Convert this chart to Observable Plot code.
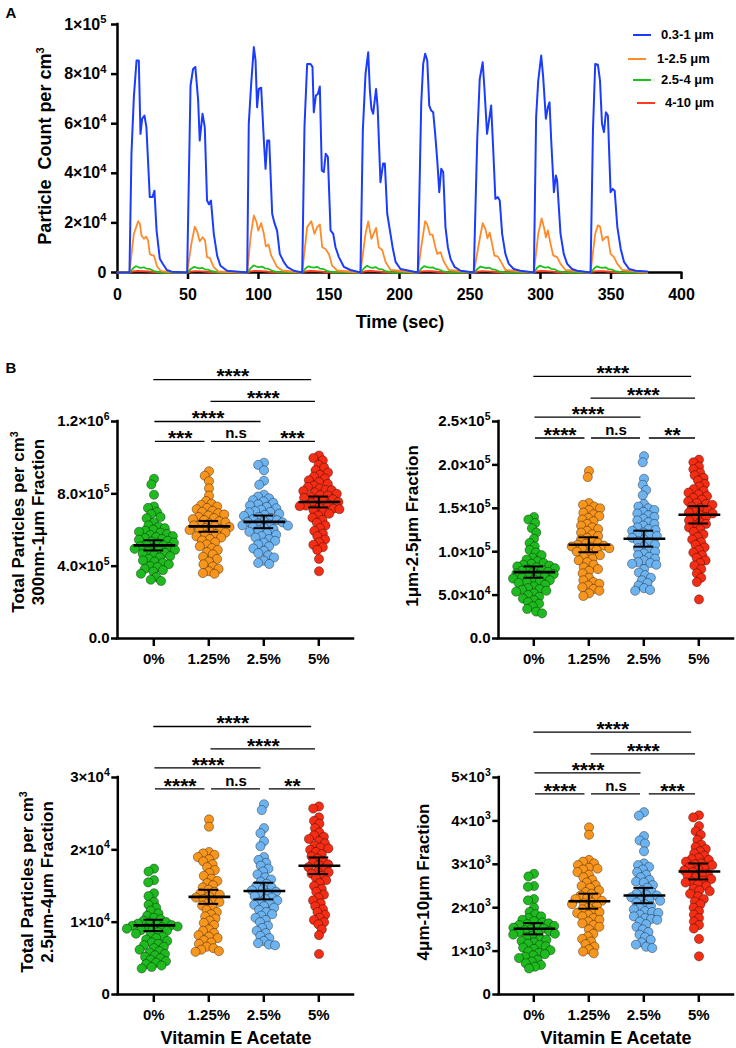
<!DOCTYPE html>
<html><head><meta charset="utf-8">
<script src="https://cdn.jsdelivr.net/npm/d3@7"></script>
<script src="https://cdn.jsdelivr.net/npm/@observablehq/plot@0.6"></script>
<style>
body{margin:0;background:#fff}
#root{position:relative;width:736px;height:1048px;overflow:hidden;background:#fff;font-family:"Liberation Sans",Arial,Helvetica,sans-serif;font-weight:bold;color:#000}
.abs{position:absolute}
.abs svg{overflow:visible;display:block}
.title{position:absolute;transform:translate(-50%,-50%) rotate(-90deg);white-space:pre;text-align:center;line-height:20px}
.htitle{position:absolute;transform:translate(-50%,-50%);white-space:pre}
sup{font-size:0.62em;line-height:0;vertical-align:0.6em}
.ax [aria-label^="x-axis"] path,.ax [aria-label^="x-axis"] line,.ax [aria-label^="y-axis"] path,.ax [aria-label^="y-axis"] line{stroke-width:2.5px}
.pa [aria-label^="x-axis"] text{font-size:16px}
.pa [aria-label^="y-axis"] text{font-size:16px}
.leg{position:absolute;font-size:13px;white-space:pre}
.legline{position:absolute;height:2px}
</style>
</head><body><div id="root"></div>
<script>
// ---------------- DATA ----------------
// Panel A: particle counts (×10^3 per cm^3) over time (sec)
const blueA = [[0,0],[8.5,0],
[9.9,47.9],[11.6,70.7],[13.5,85.5],[15.1,85.5],[16.3,55.9],[17.5,62],[19.1,63.3],[20.5,58.6],[22.9,30.4],[24.8,30.4],[26.2,33],[27.7,17],[30,5.5],[32.1,3.5],[35,1],[38.5,0.3],[49.4,0],
[51.8,75.4],[53.6,82.1],[55.2,82.9],[57.2,69.4],[58.3,53.2],[60.3,64],[61.9,58.6],[63.5,29],[64.9,27.5],[66.3,29],[68.3,15.6],[70.7,6.7],[73,2.7],[77.7,0.7],[92,0],
[93.1,60],[94.8,76],[96.7,90.9],[97.9,85.5],[99,66.6],[100.2,74],[101.9,74.5],[103.8,53.2],[105,41.8],[106.2,53.2],[107.6,53.2],[109.7,23.7],[111.3,20],[113.2,16.8],[115.1,7.5],[117.9,4.3],[120.3,2.3],[125,0.7],[131,0],
[132.6,58.6],[134.5,84.1],[136.9,84.1],[138.3,82.9],[139.2,64.6],[140.7,71.4],[142.1,72],[143.5,75],[144.9,41.1],[146.3,40.5],[147.7,47.9],[149.2,46.6],[151.1,17],[153,15.6],[154.6,10.2],[157,6.2],[160.5,2.3],[165.2,1],[172.3,0],
[174,57.3],[175.9,80.1],[177.8,88.8],[179,73.4],[180.1,66],[181.3,64],[183.4,74],[184.5,66.6],[186.5,36.4],[188.4,44],[189.6,44],[191.3,23.7],[193.2,17],[195.1,10.2],[197.2,4.3],[200.7,1.4],[213,0],
[215.4,68],[216.8,84.1],[218.2,88.2],[219.7,85.5],[221.1,67.3],[222.5,65.3],[223.9,64.6],[225.3,55.9],[226.8,45],[228.2,32.4],[229.6,41.8],[231,40.5],[232.6,18.3],[234.3,10.2],[236.2,5.5],[239,2.3],[243.3,0.7],[252.7,0],
[255.1,53.2],[256.9,78],[259,84.8],[260.2,74.5],[262.1,55.9],[263.5,61.3],[265,67.3],[266.4,50.5],[268,29.7],[269.7,30.4],[271.1,29],[272.8,15.6],[275.1,7.5],[277.5,3.5],[281,1.4],[285.7,0.7],[295.3,0],
[296.9,62.6],[298.4,77.4],[300.5,87.5],[301.9,78.8],[303.8,62],[305.2,66.6],[306.4,68.6],[307.6,53.2],[309.5,32.4],[310.9,39.1],[311.8,37.1],[314.2,15.6],[316.5,7.5],[318.9,3.5],[322.4,1.4],[325.9,0.7],[335.5,0],
[337.2,57.3],[338.8,84.1],[340.7,83.8],[342.2,77.4],[343.6,60],[345,56.6],[346.4,64.6],[347.8,63.3],[349.7,32.4],[351.2,33.7],[352.6,33],[354.5,18.3],[356.9,9.5],[359.2,4.3],[362.8,1.4],[367.5,0.7],[375.7,0.4]];
const orangeA = [[0,0],[8.5,0],[11.6,15.6],[14.7,20.7],[15.9,19.6],[17,14.9],[18.7,13.6],[20.3,14.5],[21.7,12.9],[22.9,7.5],[24.6,6.9],[25.8,6.9],[28.1,2.4],[30.4,0.8],[32.8,0.4],[49.4,0],
[52.5,12],[54.8,18.5],[56.5,16.5],[58.3,12.6],[60.4,14.2],[62.1,12.9],[63.5,6.2],[65.4,5.9],[68.3,2.2],[71.5,0.4],[92,0],
[94.5,15],[96.7,23],[98.6,20.3],[99.8,16.9],[101.9,19.9],[103.8,15.6],[105.2,10.5],[107.1,11.3],[109,6.8],[110.9,4.8],[113.2,2.2],[116.8,0.8],[131,0],
[134.5,18.3],[137.4,20.7],[139.7,15.6],[141.6,18.3],[143.5,19.4],[145.2,10.2],[147.5,9.5],[149.9,7.5],[152.2,2.8],[155.8,0.8],[172.3,0],
[175.9,15.6],[177.8,20.6],[180.1,13.6],[183.4,18],[185.3,10.2],[187.7,9.1],[190.1,4.3],[193.6,1],[213,0],
[215.4,10.2],[218.2,20.7],[219.7,19.4],[221.6,15.3],[223.4,15.3],[225.3,10.5],[226.8,7.5],[229.1,8.2],[231.5,4.3],[235,1],[252.7,0],
[256.9,13.6],[259,19.9],[260.9,17.6],[262.4,13.8],[264,16.1],[265.4,12.3],[267.3,6.8],[269.7,6.5],[272,4.3],[275.1,1],[295.3,0],
[298.4,15.6],[300.8,21.8],[302.4,18.3],[303.8,14.2],[305.2,17],[307.1,11.6],[309,6.9],[311.8,6.2],[314.2,3.5],[317.7,1],[335.5,0],
[338.8,15.6],[340.7,19],[342.2,18.5],[344.1,12.9],[346.1,14.2],[347.8,14.5],[349.7,7.5],[352.1,6.2],[354.5,3.5],[358,1],[375.7,0]];
const greenA = [[0,0],[8.5,0],[11,1.6],[13,2.6],[14.5,2.2],[16.5,1.9],[18.5,2.1],[20.5,1.6],[22.5,1.5],[25.5,0.7],[29,0.2],[34,0],
[49.4,0],[52,1.4],[54.5,2.3],[56,2.0],[58,1.7],[60,1.9],[62,1.3],[64,1.2],[67,0.5],[71,0.1],[92,0],
[94.5,1.8],[96.5,2.9],[98.5,2.4],[100.5,2.2],[102.5,2.4],[104.5,1.7],[106.5,1.6],[109.5,0.8],[113,0.2],[131,0],
[133.5,1.7],[135.5,2.5],[137.5,2.2],[139.5,2.0],[141.5,2.3],[143.5,1.6],[145.5,1.5],[148.5,0.7],[152,0.2],[172.3,0],
[175,1.8],[177,2.7],[179,2.1],[181,1.9],[183,2.2],[185,1.5],[187,1.4],[190,0.6],[194,0.1],[213,0],
[215.5,1.6],[217.5,2.6],[219.5,2.2],[221.5,2.0],[223.5,2.1],[225.5,1.5],[227.5,1.3],[230.5,0.6],[234,0.1],[252.7,0],
[255.5,1.5],[257.5,2.4],[259.5,2.1],[261.5,1.8],[263.5,2.0],[265.5,1.4],[267.5,1.2],[270.5,0.5],[274,0.1],[295.3,0],
[297.5,1.8],[299.5,2.8],[301.5,2.3],[303.5,2.0],[305.5,2.2],[307.5,1.5],[309.5,1.4],[312.5,0.6],[316,0.1],[335.5,0],
[338,1.6],[340,2.5],[342,2.1],[344,1.9],[346,2.1],[348,1.4],[350,1.3],[353,0.6],[357,0.1],[375.7,0]];
const redA = [[0,0],[8.5,0],[11,0.4],[14,0.6],[18,0.5],[22,0.4],[26,0.15],[31,0],
[49.4,0],[52,0.35],[55,0.5],[59,0.45],[63,0.3],[67,0.1],[72,0],
[92,0],[94.5,0.45],[97.5,0.65],[101.5,0.55],[105.5,0.4],[109.5,0.15],[114,0],
[131,0],[133.5,0.4],[136.5,0.6],[140.5,0.5],[144.5,0.35],[148.5,0.1],[153,0],
[172.3,0],[175,0.4],[178,0.6],[182,0.5],[186,0.35],[190,0.1],[195,0],
[213,0],[215.5,0.4],[218.5,0.55],[222.5,0.5],[226.5,0.3],[230.5,0.1],[235,0],
[252.7,0],[255.5,0.35],[258.5,0.5],[262.5,0.45],[266.5,0.3],[270.5,0.1],[275,0],
[295.3,0],[297.5,0.45],[300.5,0.6],[304.5,0.5],[308.5,0.35],[312.5,0.1],[317,0],
[335.5,0],[338,0.4],[341,0.55],[345,0.5],[349,0.3],[353,0.1],[358,0],[375.7,0]];
const seriesNames = ["0.3-1 μm", "1-2.5 μm", "2.5-4 μm", "4-10 μm"];
const seriesColors = ["#1b3cff", "#ff8a2a", "#1cbf1c", "#ff3a1e"];
const xTicksA = [0, 50, 100, 150, 200, 250, 300, 350, 400];
const yTicksA = [0, 20, 40, 60, 80, 100];
const yTickLabelsA = ["0", "2×10^4", "4×10^4", "6×10^4", "8×10^4", "1×10^5"];

// Panel B
const groups = ["0%", "1.25%", "2.5%", "5%"];
const groupFill = ["#1fba1f", "#f7951d", "#6db3f0", "#f52d14"];
const bracketLabels1 = ["****", "****", "****", "***", "n.s", "***"];
const bracketLabels2 = ["****", "****", "****", "****", "n.s", "**"];
const bracketLabels3 = ["****", "****", "****", "****", "n.s", "**"];
const bracketLabels4 = ["****", "****", "****", "****", "n.s", "***"];
const bracketRow = [0, 1, 2, 3, 3, 3];
const bracketFrom = [0.0, 1.04, 0.02, 0.03, 1.05, 2.1];
const bracketTo = [2.87, 2.94, 1.95, 0.93, 1.94, 2.94];

// B1: 300nm-1µm (×10^3)
const p1_0 = [883,852,795,730,722,700,688,672,665,640,625,618,610,602,596,590,585,578,572,566,560,555,550,546,540,536,530,526,520,515,510,505,500,496,490,485,480,474,468,460,455,448,440,432,425,418,410,400,395,385,378,370,358,340,325,318];
const p1_1 = [925,900,870,830,790,760,745,738,730,722,715,706,700,692,686,680,672,666,660,655,648,642,636,630,625,620,616,610,605,600,596,590,585,578,572,565,558,550,542,532,520,510,500,490,478,465,452,440,425,410,398,385,372,362,358];
const p1_2 = [972,960,930,872,850,795,785,775,765,758,750,742,735,728,720,712,705,700,698,690,684,678,672,666,660,654,648,645,642,636,630,626,624,618,612,605,598,590,582,574,566,558,550,540,530,520,510,498,485,472,460,448,430,418,412];
const p1_3 = [1012,998,985,960,945,930,918,905,895,885,875,865,855,845,838,830,822,820,815,808,800,792,790,785,778,770,762,760,755,748,740,735,732,725,718,715,710,700,690,680,668,655,640,625,610,595,580,565,548,532,518,505,490,440,372];
const p1Means = [515, 620, 645, 755];
const p1Errs = [28, 30, 35, 30];
const p1Ticks = [0, 400, 800, 1200];
const p1TickLabels = ["0.0", "4.0×10^5", "8.0×10^5", "1.2×10^6"];
const p1BracketY = [1432, 1311, 1200, 1090];

// B2: 1µm-2.5µm (×10^3)
const p2_0 = [140,137,133,127,122,115,110,106,102,99,96,93,91,89,87,86,85,84,83,82,81,80,79,78,77,76,75,74,73,72,71,70,69,68,67,66,65,64,62,60,58,57,56,55,54,52,50,48,46,44,42,40,37,34,31,29];
const p2_1 = [193,186,156,154,152,150,148,145,143,141,139,137,135,132,130,128,126,124,122,120,118,116,114,112,110,109,108,107,106,105,104,103,102,100,98,96,94,92,90,88,85,82,80,78,75,70,67,65,63,61,59,57,55,52,49];
const p2_2 = [210,203,184,177,171,165,155,152,150,148,146,144,142,140,138,136,134,132,130,128,126,125,124,122,120,119,118,116,114,112,110,108,106,104,102,100,98,96,94,92,90,88,87,86,85,80,76,73,70,67,64,61,58,56,55];
const p2_3 = [206,203,198,195,191,188,185,182,178,175,172,170,168,166,164,162,160,158,156,155,154,152,150,148,146,145,144,142,140,138,136,134,132,130,128,126,123,120,117,114,111,108,105,102,99,96,93,90,87,84,80,75,70,65,45];
const p2Means = [76.5, 108, 115, 142.5];
const p2Errs = [6.5, 8.6, 9.2, 10];
const p2Ticks = [0, 50, 100, 150, 200, 250];
const p2TickLabels = ["0.0", "5.0×10^4", "1.0×10^5", "1.5×10^5", "2.0×10^5", "2.5×10^5"];
const p2BracketY = [302, 277, 255, 231];

// B3: 2.5µm-4µm (×10^3)
const p3_0 = [17.4,17.0,15.8,15.5,14.0,13.6,12.8,12.4,12.0,11.6,11.2,10.9,10.6,10.4,10.2,10.0,9.9,9.8,9.7,9.6,9.5,9.4,9.3,9.2,9.1,9.0,8.9,8.8,8.6,8.4,8.2,8.0,7.8,7.6,7.4,7.2,7.0,6.8,6.6,6.4,6.2,6.0,5.8,5.6,5.4,5.2,5.0,4.8,4.6,4.4,4.2,4.0,3.8,3.6];
const p3_1 = [24.2,23.2,19.7,19.5,19.3,19.0,18.7,18.4,18.0,17.6,17.2,16.8,16.4,16.0,15.7,15.4,15.1,14.8,14.5,14.2,14.0,13.8,13.6,13.4,13.2,13.0,12.8,12.6,12.3,12.0,11.7,11.4,11.1,10.8,10.5,10.2,9.9,9.6,9.0,8.8,8.5,8.2,8.0,7.8,7.5,7.2,7.0,6.6,6.4,6.2,6.0,5.9];
const p3_2 = [26.3,25.5,23.0,22.3,21.2,20.5,19.0,18.6,18.2,17.8,17.4,17.0,16.6,16.2,15.9,15.6,15.3,15.0,14.8,14.6,14.4,14.2,14.0,13.8,13.6,13.4,13.2,13.0,12.8,12.6,12.4,12.2,12.0,11.7,11.4,11.1,10.9,10.6,10.3,10.0,9.5,9.2,8.8,8.5,8.1,7.8,7.4,7.1,6.9,6.8];
const p3_3 = [26.0,25.7,24.5,24.0,23.6,23.0,22.4,22.0,21.8,21.5,21.2,20.9,20.6,20.3,20.2,20.0,19.7,19.4,19.1,18.8,18.5,18.2,18.0,17.9,17.6,17.3,17.0,16.9,16.7,16.4,16.1,15.8,15.4,15.0,14.6,14.2,13.8,13.4,13.0,12.6,12.2,11.8,11.4,11.0,10.6,10.3,10.0,9.7,9.0,8.2,5.6];
const p3Means = [9.55, 13.5, 14.3, 17.8];
const p3Errs = [0.78, 0.97, 1.15, 1.15];
const p3Ticks = [0, 10, 20, 30];
const p3TickLabels = ["0", "1×10^4", "2×10^4", "3×10^4"];
const p3BracketY = [37.05, 33.97, 31.34, 28.44];

// B4: 4µm-10µm
const p4_0 = [2780,2720,2500,2480,2200,2170,2000,1900,1850,1800,1760,1720,1690,1660,1640,1620,1600,1580,1560,1540,1520,1500,1480,1460,1440,1420,1400,1380,1350,1320,1290,1260,1230,1200,1170,1140,1110,1080,1050,1020,990,960,930,900,870,840,800,760,720,680,640,600];
const p4_1 = [3850,3680,3100,3060,3020,2980,2920,2900,2880,2820,2760,2700,2640,2580,2520,2500,2460,2400,2360,2320,2280,2240,2220,2200,2160,2120,2100,2080,2040,2000,1960,1920,1900,1880,1840,1800,1760,1720,1680,1640,1600,1560,1500,1400,1340,1280,1220,1160,1100,1040,990,950];
const p4_2 = [4200,4120,3650,3550,3480,3300,3020,2980,2940,2880,2820,2760,2700,2640,2600,2580,2520,2460,2400,2360,2320,2300,2280,2240,2200,2180,2160,2120,2080,2040,2000,1960,1920,1900,1880,1840,1800,1760,1740,1720,1680,1620,1560,1500,1440,1380,1320,1260,1200,1150,1100,1070];
const p4_3 = [4130,4080,3880,3760,3680,3560,3450,3400,3350,3300,3250,3200,3150,3120,3100,3060,3020,3000,2980,2940,2900,2880,2860,2820,2780,2760,2740,2700,2660,2620,2600,2580,2540,2500,2440,2400,2380,2320,2260,2200,2140,2080,2000,1920,1840,1760,1680,1600,1520,1280,880];
const p4Means = [1515, 2150, 2280, 2835];
const p4Errs = [130, 173, 177, 184];
const p4Ticks = [0, 1000, 2000, 3000, 4000, 5000];
const p4TickLabels = ["0", "1×10^3", "2×10^3", "3×10^3", "4×10^3", "5×10^3"];
const p4BracketY = [6044, 5546, 5108, 4624];

// ---------------- RENDER ----------------
const FONT = '"Liberation Sans", Arial, Helvetica, sans-serif';
const root = document.getElementById("root");

function place(node, left, top) {
  const d = document.createElement("div");
  d.className = "abs";
  d.style.left = left + "px"; d.style.top = top + "px";
  d.appendChild(node);
  root.appendChild(d);
  return d;
}
function html(cls, inner, left, top, fs) {
  const d = document.createElement("div");
  d.className = cls;
  d.innerHTML = inner;
  d.style.left = left + "px"; d.style.top = top + "px";
  if (fs) d.style.fontSize = fs + "px";
  root.appendChild(d);
  return d;
}
function supify(svg) {
  svg.querySelectorAll("text").forEach(t => {
    const s = t.textContent;
    if (!s.includes("^")) return;
    const [base, exp] = s.split("^");
    while (t.firstChild) t.removeChild(t.firstChild);
    t.appendChild(document.createTextNode(base));
    const ts = document.createElementNS("http://www.w3.org/2000/svg", "tspan");
    ts.setAttribute("dy", "-0.6em");
    ts.setAttribute("font-size", "0.7em");
    ts.textContent = exp;
    t.appendChild(ts);
  });
}

// Panel A
const plotA = Plot.plot({
  width: 736, height: 305,
  marginLeft: 117, marginRight: 55, marginTop: 24, marginBottom: 33,
  style: {fontFamily: FONT, fontSize: "16px", fontWeight: "bold", background: "none", color: "#000", overflow: "visible"},
  x: {domain: [0, 400], ticks: xTicksA, tickSize: 7, tickPadding: 9, label: null},
  y: {domain: [0, 100], ticks: yTicksA, tickFormat: d => yTickLabelsA[yTicksA.indexOf(d)], tickSize: 6, tickPadding: 5, label: null},
  marks: [
    Plot.ruleY([0], {x1: 0, x2: 400, strokeWidth: 2.5, strokeLinecap: "square"}),
    Plot.ruleX([0], {y1: 0, y2: 100, strokeWidth: 2.5, strokeLinecap: "square"}),
    Plot.line(redA, {x: d => d[0], y: d => d[1], stroke: seriesColors[3], strokeWidth: 1.8}),
    Plot.line(greenA, {x: d => d[0], y: d => d[1], stroke: seriesColors[2], strokeWidth: 1.8}),
    Plot.line(orangeA, {x: d => d[0], y: d => d[1], stroke: seriesColors[1], strokeWidth: 1.8}),
    Plot.line(blueA, {x: d => d[0], y: d => d[1], stroke: seriesColors[0], strokeWidth: 2})
  ]
});
plotA.classList.add("ax", "pa");
supify(plotA);
place(plotA, 0, 0);

// legend A
const legRows = [35, 59, 80, 103];
const legLineX = [633, 628, 633, 637];
const legTextX = [661, 657, 661, 665];
seriesNames.forEach((n, i) => {
  const l = document.createElement("div");
  l.className = "legline";
  l.style.left = legLineX[i] + "px"; l.style.top = (legRows[i] - 1) + "px";
  l.style.width = "18px"; l.style.background = seriesColors[i];
  root.appendChild(l);
  html("leg", n, legTextX[i], legRows[i] - 8);
});

html("htitle", "A", 11, 12, 15);
html("htitle", "B", 11, 367, 15);
html("title", "Particle  Count per cm<sup>3</sup>", 45, 146, 18);
html("htitle", "Time (sec)", 400, 322, 18);

// Panel B
function panelB(cfg) {
  const S = 55;
  const {L, T, W, H, yAxisX, g0X, axisEndX, yTopPx, yZeroPx, yMax, ticks, tickLabels, vals, means, errs, bracketY, labels} = cfg;
  const xmin = (yAxisX - g0X) / S, xmax = (axisEndX - g0X) / S;
  const marginTop = yTopPx - T, marginBottom = T + H - yZeroPx;
  const style = {fontFamily: FONT, fontSize: "15px", fontWeight: "bold", background: "none", color: "#000", overflow: "visible"};

  // dots layer (beeswarm per group via facets + dodgeX)
  const dots = groups.flatMap((g, i) => vals[i].map(v => ({group: g, value: v})));
  const dotPlot = Plot.plot({
    width: W, height: H,
    marginLeft: g0X - S / 2 - L, marginRight: L + W - (g0X + 3 * S + S / 2),
    marginTop, marginBottom,
    style,
    facet: {data: dots, x: "group"},
    fx: {domain: groups, padding: 0, axis: null, label: null},
    y: {domain: [0, yMax], axis: null},
    color: {domain: groups, range: groupFill},
    marks: [
      Plot.dot(dots, Plot.dodgeX({anchor: "middle", padding: -3}, {y: "value", r: 4.6, fill: "group", stroke: "rgba(0,0,0,0.45)", strokeWidth: 0.8}))
    ]
  });
  place(dotPlot, L, T);

  const stats = groups.map((g, i) => ({i, mean: means[i], err: errs[i]}));
  const br = labels.map((lab, k) => ({label: lab, y: bracketY[bracketRow[k]], x1: bracketFrom[k], x2: bracketTo[k]}));
  const main = Plot.plot({
    width: W, height: H,
    marginLeft: yAxisX - L, marginRight: L + W - axisEndX, marginTop, marginBottom,
    style,
    x: {domain: [xmin, xmax], ticks: [0, 1, 2, 3], tickFormat: i => groups[i], tickSize: 8, tickPadding: 7, label: null},
    y: {domain: [0, yMax], ticks, tickFormat: d => tickLabels[ticks.indexOf(d)], tickSize: 6, tickPadding: 2, label: null},
    marks: [
      Plot.ruleY([0], {x1: xmin, x2: xmax, strokeWidth: 2.5, strokeLinecap: "square"}),
      Plot.ruleX([xmin], {y1: 0, y2: yMax, strokeWidth: 2.5, strokeLinecap: "square"}),
      Plot.ruleX(stats, {x: "i", y1: d => d.mean - d.err, y2: d => d.mean + d.err, strokeWidth: 2}),
      Plot.ruleY(stats, {y: d => d.mean + d.err, x1: d => d.i - 0.18, x2: d => d.i + 0.18, strokeWidth: 2}),
      Plot.ruleY(stats, {y: d => d.mean - d.err, x1: d => d.i - 0.18, x2: d => d.i + 0.18, strokeWidth: 2}),
      Plot.ruleY(stats, {y: "mean", x1: d => d.i - 0.36, x2: d => d.i + 0.4, strokeWidth: 2.6}),
      Plot.ruleY(br, {y: "y", x1: "x1", x2: "x2", strokeWidth: 1.3}),
      Plot.text(br.filter(d => d.label !== "n.s"), {x: d => (d.x1 + d.x2) / 2, y: "y", text: "label", fontSize: 21, dy: -3}),
      Plot.text(br.filter(d => d.label === "n.s"), {x: d => (d.x1 + d.x2) / 2, y: "y", text: "label", fontSize: 15, dy: -8})
    ]
  });
  main.classList.add("ax");
  supify(main);
  place(main, L, T);
}

panelB({L: 0, T: 355, W: 368, H: 325, yAxisX: 117, g0X: 153.3, axisEndX: 353, yTopPx: 421, yZeroPx: 638,
  yMax: 1200, ticks: p1Ticks, tickLabels: p1TickLabels, vals: [p1_0, p1_1, p1_2, p1_3], means: p1Means, errs: p1Errs, bracketY: p1BracketY, labels: bracketLabels1});
panelB({L: 368, T: 355, W: 368, H: 325, yAxisX: 498, g0X: 533.3, axisEndX: 733, yTopPx: 421, yZeroPx: 638,
  yMax: 250, ticks: p2Ticks, tickLabels: p2TickLabels, vals: [p2_0, p2_1, p2_2, p2_3], means: p2Means, errs: p2Errs, bracketY: p2BracketY, labels: bracketLabels2});
panelB({L: 0, T: 700, W: 368, H: 348, yAxisX: 117.3, g0X: 153.3, axisEndX: 353, yTopPx: 777, yZeroPx: 994,
  yMax: 30, ticks: p3Ticks, tickLabels: p3TickLabels, vals: [p3_0, p3_1, p3_2, p3_3], means: p3Means, errs: p3Errs, bracketY: p3BracketY, labels: bracketLabels3});
panelB({L: 368, T: 700, W: 368, H: 348, yAxisX: 498.3, g0X: 533.3, axisEndX: 733, yTopPx: 777, yZeroPx: 994,
  yMax: 5000, ticks: p4Ticks, tickLabels: p4TickLabels, vals: [p4_0, p4_1, p4_2, p4_3], means: p4Means, errs: p4Errs, bracketY: p4BracketY, labels: bracketLabels4});

html("title", "Total Particles per cm<sup>3</sup>\n300nm-1μm Fraction", 29, 522, 17);
html("title", "1μm-2.5μm Fraction", 413, 526, 17);
html("title", "Total Particles per cm<sup>3</sup>\n2.5μm-4μm Fraction", 38, 882, 17);
html("title", "4μm-10μm Fraction", 424, 882, 17);
html("htitle", "Vitamin E Acetate", 236, 1038, 18);
html("htitle", "Vitamin E Acetate", 616, 1038, 18);
</script>
</body></html>
